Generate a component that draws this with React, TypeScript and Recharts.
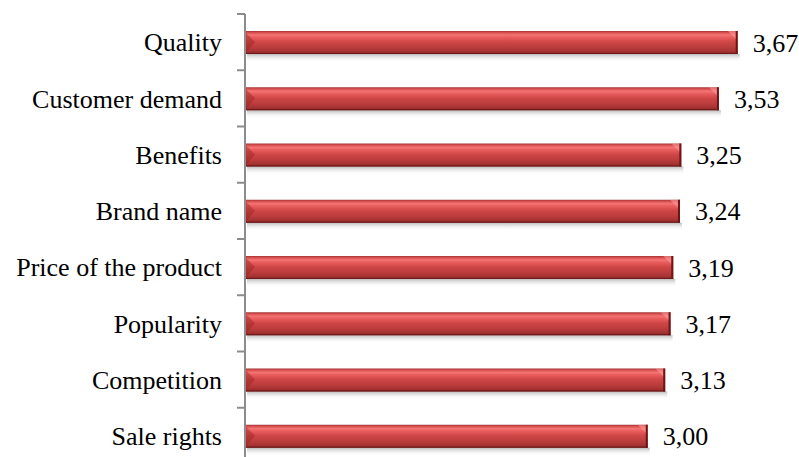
import { BarChart, Bar, XAxis, YAxis, LabelList } from "recharts"

const categories = [
  "Quality",
  "Customer demand",
  "Benefits",
  "Brand name",
  "Price of the product",
  "Popularity",
  "Competition",
  "Sale rights",
]
const scores = [3.67, 3.53, 3.25, 3.24, 3.19, 3.17, 3.13, 3.0]

const data = categories.map((name, i) => ({ name, value: scores[i] }))

const FONT = "'Liberation Serif', 'Times New Roman', serif"
const PLOT_TOP = 14
const PLOT_HEIGHT = 450
const AXIS_X = 245
const band = PLOT_HEIGHT / categories.length

// y-axis label plus a tick mark on the band's upper boundary (Excel style)
const CategoryTick = (props: any) => {
  const { y, payload } = props
  return (
    <g>
      <line x1={AXIS_X - 8} x2={AXIS_X} y1={y - band / 2} y2={y - band / 2} stroke="#8c8c8c" strokeWidth={2} />
      <text x={AXIS_X - 23} y={y} dy="0.36em" textAnchor="end" fontFamily={FONT} fontSize={26} fill="#000">
        {payload.value}
      </text>
    </g>
  )
}

// bevelled red bar with a soft shadow underneath
const BevelBar = (props: any) => {
  const { x, y, width, height } = props
  if (width <= 0) return null
  const b = 10
  return (
    <g>
      <rect x={x + 2} y={y + height} width={width} height={8} fill="url(#barShadow)" />
      <rect x={x} y={y} width={width} height={height} fill="url(#barFill)" />
      <polygon
        points={`${x},${y + 1} ${x + b},${y + b + 1} ${x},${y + height}`}
        fill="#9a2424"
        opacity={0.45}
      />
      <polygon
        points={`${x + width - b},${y} ${x + width},${y} ${x + width},${y + b}`}
        fill="#ff9c9c"
        opacity={0.55}
      />
      <rect x={x + width - 2} y={y} width={2} height={height} fill="#6e1515" />
      <rect x={x} y={y + height - 1} width={width} height={1} fill="#6e1a1a" />
    </g>
  )
}

export default function App() {
  return (
    <div style={{ position: "absolute", left: 0, top: 0, width: 799, height: 457, overflow: "hidden", background: "#fff" }}>
      <BarChart
        width={799}
        height={470}
        data={data}
        layout="vertical"
        margin={{ top: PLOT_TOP, right: 17, bottom: 470 - PLOT_TOP - PLOT_HEIGHT, left: 0 }}
        barSize={23}
      >
        <defs>
          <linearGradient id="barFill" x1="0" y1="0" x2="0" y2="1">
            <stop offset="0%" stopColor="#a23434" />
            <stop offset="7%" stopColor="#d84e4e" />
            <stop offset="17%" stopColor="#f47474" />
            <stop offset="28%" stopColor="#e85c5c" />
            <stop offset="48%" stopColor="#cf4646" />
            <stop offset="72%" stopColor="#bb3c3c" />
            <stop offset="90%" stopColor="#a43232" />
            <stop offset="100%" stopColor="#7a1e1e" />
          </linearGradient>
          <linearGradient id="barShadow" x1="0" y1="0" x2="0" y2="1">
            <stop offset="0%" stopColor="#b0b0b0" stopOpacity={0.85} />
            <stop offset="100%" stopColor="#ffffff" stopOpacity={0} />
          </linearGradient>
        </defs>
        <XAxis type="number" domain={[0, 4]} hide />
        <YAxis
          type="category"
          dataKey="name"
          width={AXIS_X}
          axisLine={{ stroke: "#8c8c8c", strokeWidth: 2 }}
          tickLine={false}
          tick={<CategoryTick />}
          interval={0}
        />
        <Bar dataKey="value" shape={<BevelBar />} isAnimationActive={false}>
          <LabelList
            dataKey="value"
            position="right"
            offset={15}
            formatter={(v: any) => Number(v).toFixed(2).replace(".", ",")}
            style={{ fontFamily: FONT, fontSize: 26, fill: "#000" }}
          />
        </Bar>
      </BarChart>
    </div>
  )
}
